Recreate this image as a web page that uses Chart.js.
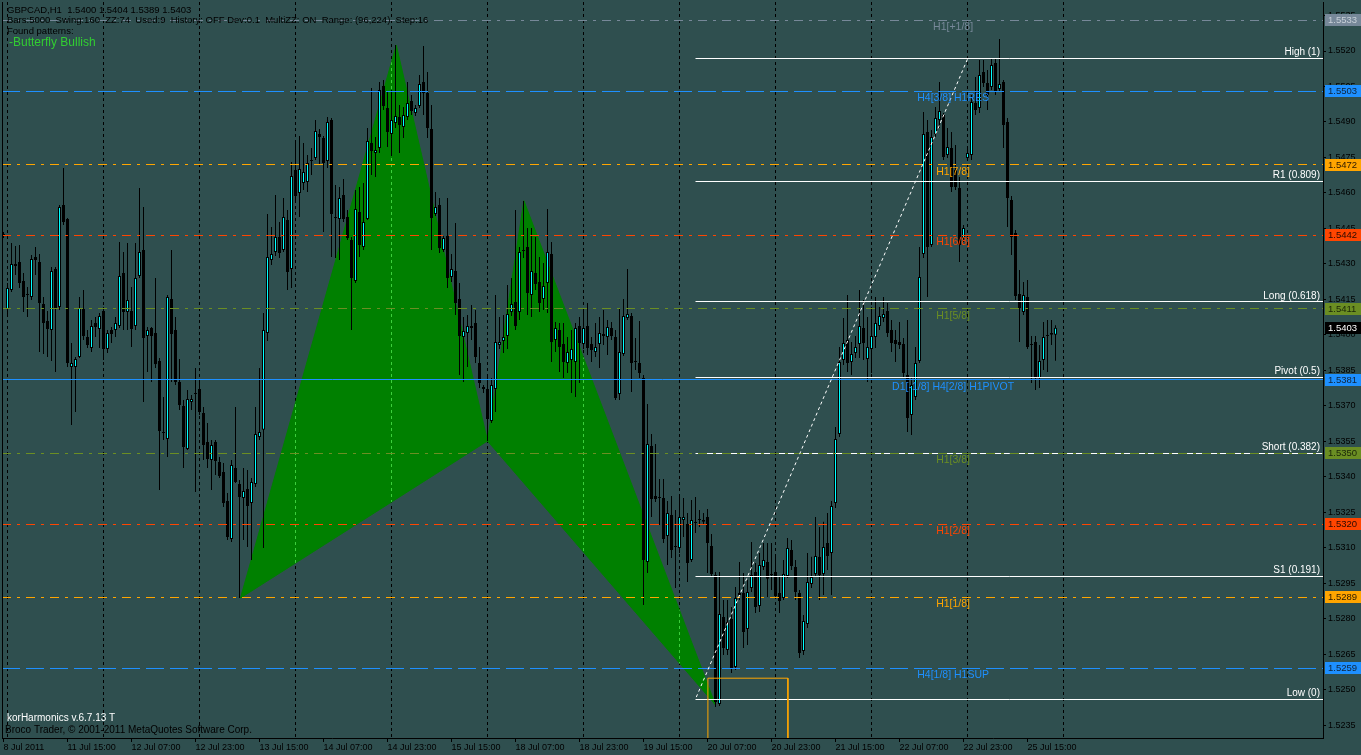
<!DOCTYPE html>
<html lang="en">
<head>
  <meta charset="UTF-8" />
  <title>GBPCAD,H1 | korHarmonics</title>
  <script src="https://cdn.jsdelivr.net/npm/chart.js"></script>
  <style>
    body {
      margin: 0;
      background: #2f4f4f;
      overflow: hidden;
    }

    .chart-box {
      position: relative;
      width: 1361px;
      height: 755px;
    }
  </style>
</head>
<body>
  <div class="chart-box">
    <canvas id="priceChart"></canvas>
  </div>

  <script>
    // GBPCAD H1 bars, 8 Jul 2011 23:00 .. 25 Jul 2011 22:00
    const opens = [
      1.54418, 1.54109, 1.54189, 1.54291, 1.54308, 1.54227, 1.54168, 1.54160, 1.54329, 1.54308,
      1.54130, 1.54058, 1.54020, 1.54278, 1.54118, 1.54549, 1.54490, 1.53864, 1.53864, 1.53906,
      1.54109, 1.53991, 1.53944, 1.54050, 1.54025, 1.54101, 1.53940, 1.54020, 1.54020, 1.54037,
      1.54261, 1.54096, 1.54101, 1.54037, 1.54249, 1.54359, 1.53995, 1.54029, 1.54008, 1.53889,
      1.53589, 1.53559, 1.54151, 1.54020, 1.53800, 1.53699, 1.53517, 1.53716, 1.53750, 1.53771,
      1.53669, 1.53547, 1.53471, 1.53547, 1.53462, 1.53420, 1.53297, 1.53137, 1.53437, 1.53369,
      1.53310, 1.53348, 1.53289, 1.53369, 1.53568, 1.53598, 1.54008, 1.54316, 1.54350, 1.54414,
      1.54359, 1.54485, 1.54278, 1.54697, 1.54600, 1.54642, 1.54646, 1.54739, 1.54748, 1.54849,
      1.54832, 1.54735, 1.54908, 1.54498, 1.54490, 1.54591, 1.54498, 1.54401, 1.54227, 1.54519,
      1.54371, 1.54490, 1.54811, 1.54769, 1.54790, 1.55052, 1.54959, 1.54849, 1.54896, 1.54921,
      1.54879, 1.54921, 1.54989, 1.54938, 1.54967, 1.55069, 1.55022, 1.54870, 1.54511, 1.54549,
      1.54359, 1.54418, 1.54244, 1.54270, 1.54151, 1.53991, 1.54008, 1.54029, 1.54050, 1.53881,
      1.53771, 1.53771, 1.53636, 1.53771, 1.53957, 1.53974, 1.53995, 1.54096, 1.54139, 1.54096,
      1.54359, 1.54371, 1.54168, 1.54261, 1.54223, 1.54151, 1.54219, 1.54342, 1.53978, 1.54020,
      1.53961, 1.53881, 1.53893, 1.53885, 1.54037, 1.53961, 1.54037, 1.53961, 1.53927, 1.53961,
      1.53995, 1.53991, 1.54029, 1.53991, 1.53750, 1.53919, 1.54071, 1.54079, 1.53889, 1.53881,
      1.53817, 1.53039, 1.53530, 1.53318, 1.53314, 1.53310, 1.53149, 1.53238, 1.53107, 1.53099,
      1.53217, 1.53200, 1.53048, 1.53209, 1.53217, 1.53209, 1.53230, 1.53107, 1.52984, 1.52439,
      1.52807, 1.52667, 1.52798, 1.52595, 1.52900, 1.52908, 1.52756, 1.52929, 1.52997, 1.52853,
      1.53018, 1.53039, 1.52989, 1.52997, 1.52908, 1.52887, 1.52980, 1.53090, 1.53018, 1.52908,
      1.52663, 1.52777, 1.52946, 1.52989, 1.53061, 1.52989, 1.53120, 1.53077, 1.53289, 1.53581,
      1.53893, 1.53978, 1.53885, 1.53923, 1.53961, 1.54029, 1.53898, 1.53940, 1.53991, 1.54037,
      1.54071, 1.54101, 1.54020, 1.53978, 1.53970, 1.53961, 1.53830, 1.53661, 1.53737, 1.53889,
      1.54342, 1.54858, 1.54380, 1.54849, 1.54908, 1.54929, 1.54760, 1.54790, 1.54697, 1.54621,
      1.54409, 1.54748, 1.54760, 1.54980, 1.54959, 1.55111, 1.55065, 1.55048, 1.55149, 1.55039,
      1.55069, 1.54900, 1.54570, 1.54430, 1.54172, 1.54096, 1.54160, 1.53961, 1.53970, 1.53817,
      1.53893, 1.53995, 1.54008, 1.54000
    ];
    const highs = [
      1.54435, 1.54219, 1.54388, 1.54375, 1.54380, 1.54261, 1.54202, 1.54337, 1.54371, 1.54342,
      1.54160, 1.54101, 1.54287, 1.54287, 1.54549, 1.54705, 1.54494, 1.53965, 1.53906, 1.54160,
      1.54189, 1.54020, 1.54063, 1.54075, 1.54092, 1.54118, 1.54020, 1.54033, 1.54075, 1.54392,
      1.54350, 1.54388, 1.54202, 1.54388, 1.54621, 1.54540, 1.54033, 1.54033, 1.54240, 1.53902,
      1.53737, 1.54168, 1.54359, 1.54075, 1.53898, 1.53724, 1.53767, 1.53745, 1.53860, 1.53796,
      1.53695, 1.53627, 1.53555, 1.53555, 1.53483, 1.53458, 1.53331, 1.53471, 1.53695, 1.53386,
      1.53437, 1.53428, 1.53395, 1.53695, 1.53860, 1.54092, 1.54511, 1.54456, 1.54591, 1.54477,
      1.54578, 1.54528, 1.54731, 1.54824, 1.54841, 1.54811, 1.54760, 1.54790, 1.54908, 1.54870,
      1.54841, 1.54921, 1.54917, 1.54633, 1.54625, 1.54659, 1.54528, 1.54414, 1.54612, 1.54625,
      1.54642, 1.54874, 1.55044, 1.54836, 1.55069, 1.55077, 1.55027, 1.55035, 1.55225, 1.54972,
      1.54963, 1.55069, 1.55014, 1.54972, 1.55099, 1.55221, 1.55111, 1.54972, 1.54604, 1.54578,
      1.54418, 1.54578, 1.54342, 1.54473, 1.54219, 1.54075, 1.54084, 1.54126, 1.54105, 1.53948,
      1.53788, 1.53822, 1.53817, 1.54168, 1.54075, 1.54084, 1.54211, 1.54240, 1.54528, 1.54371,
      1.54566, 1.54452, 1.54452, 1.54414, 1.54329, 1.54304, 1.54532, 1.54392, 1.54054, 1.54050,
      1.54050, 1.53991, 1.54020, 1.54050, 1.54075, 1.54105, 1.54134, 1.53991, 1.54050, 1.54075,
      1.54105, 1.54063, 1.54054, 1.54020, 1.54113, 1.54151, 1.54278, 1.54092, 1.53986, 1.54058,
      1.53830, 1.53707, 1.53581, 1.53538, 1.53390, 1.53390, 1.53297, 1.53318, 1.53259, 1.53327,
      1.53310, 1.53247, 1.53302, 1.53314, 1.53259, 1.53247, 1.53263, 1.53158, 1.52997, 1.52997,
      1.52879, 1.52879, 1.52849, 1.52934, 1.53039, 1.52993, 1.52963, 1.53124, 1.53035, 1.53077,
      1.53120, 1.53120, 1.53120, 1.53073, 1.52976, 1.53048, 1.53141, 1.53132, 1.53048, 1.52921,
      1.52815, 1.53077, 1.53061, 1.53230, 1.53187, 1.53209, 1.53247, 1.53297, 1.53610, 1.53948,
      1.54071, 1.54168, 1.53970, 1.53995, 1.54189, 1.54147, 1.54075, 1.54118, 1.54160, 1.54118,
      1.54160, 1.54134, 1.54063, 1.54020, 1.54054, 1.53986, 1.54063, 1.53822, 1.53948, 1.54371,
      1.54942, 1.54908, 1.54866, 1.54963, 1.55069, 1.54938, 1.54874, 1.54858, 1.54803, 1.54667,
      1.54464, 1.54790, 1.55014, 1.55090, 1.55162, 1.55162, 1.55120, 1.55170, 1.55170, 1.55251,
      1.55077, 1.54917, 1.54587, 1.54443, 1.54274, 1.54223, 1.54232, 1.53995, 1.53995, 1.53957,
      1.54054, 1.54063, 1.54063, 1.54040
    ];
    const lows = [
      1.54409, 1.54075, 1.54181, 1.54253, 1.54198, 1.54096, 1.54075, 1.54147, 1.54253, 1.53927,
      1.53919, 1.53906, 1.53889, 1.53843, 1.54105, 1.54464, 1.53864, 1.53619, 1.53674, 1.53902,
      1.53978, 1.53944, 1.53927, 1.53991, 1.53944, 1.53893, 1.53923, 1.53965, 1.53991, 1.54029,
      1.54020, 1.54020, 1.53948, 1.54020, 1.54240, 1.53716, 1.53843, 1.53800, 1.53860, 1.53344,
      1.53555, 1.53483, 1.53800, 1.53788, 1.53682, 1.53437, 1.53513, 1.53682, 1.53335, 1.53661,
      1.53471, 1.53437, 1.53344, 1.53407, 1.53395, 1.53272, 1.53132, 1.53124, 1.53373, 1.52887,
      1.53132, 1.53103, 1.53048, 1.53356, 1.53555, 1.53099, 1.53974, 1.54295, 1.54333, 1.54325,
      1.54350, 1.54189, 1.54198, 1.54570, 1.54498, 1.54612, 1.54604, 1.54676, 1.54739, 1.54718,
      1.54435, 1.54705, 1.54329, 1.54325, 1.54316, 1.54477, 1.54401, 1.54020, 1.54219, 1.54329,
      1.54359, 1.54485, 1.54676, 1.54667, 1.54769, 1.54951, 1.54794, 1.54756, 1.54874, 1.54769,
      1.54832, 1.54908, 1.54929, 1.54925, 1.54959, 1.54929, 1.54832, 1.54359, 1.54502, 1.54346,
      1.54350, 1.54198, 1.54223, 1.54084, 1.53830, 1.53800, 1.53864, 1.53978, 1.53881, 1.53775,
      1.53754, 1.53551, 1.53627, 1.53674, 1.53940, 1.53923, 1.53940, 1.54079, 1.54020, 1.54063,
      1.54325, 1.54084, 1.54075, 1.54189, 1.54096, 1.54105, 1.54092, 1.53885, 1.53927, 1.53843,
      1.53817, 1.53838, 1.53754, 1.53737, 1.53796, 1.53940, 1.53915, 1.53885, 1.53906, 1.53860,
      1.53957, 1.53915, 1.53978, 1.53724, 1.53724, 1.53910, 1.54063, 1.53758, 1.53851, 1.53817,
      1.52858, 1.52993, 1.53230, 1.53293, 1.53196, 1.53120, 1.53027, 1.53056, 1.52929, 1.53077,
      1.53145, 1.52955, 1.53039, 1.53162, 1.53187, 1.53196, 1.52993, 1.52980, 1.52426, 1.52430,
      1.52646, 1.52646, 1.52570, 1.52583, 1.52879, 1.52676, 1.52688, 1.52913, 1.52824, 1.52828,
      1.53006, 1.52891, 1.52921, 1.52887, 1.52824, 1.52879, 1.52972, 1.53006, 1.52879, 1.52633,
      1.52646, 1.52760, 1.52929, 1.52976, 1.52879, 1.52900, 1.53006, 1.52900, 1.53268, 1.53568,
      1.53872, 1.53843, 1.53830, 1.53902, 1.53902, 1.53893, 1.53800, 1.53838, 1.53944, 1.54020,
      1.54054, 1.53991, 1.53927, 1.53885, 1.53940, 1.53817, 1.53589, 1.53576, 1.53724, 1.53881,
      1.54325, 1.54160, 1.54371, 1.54836, 1.54874, 1.54739, 1.54748, 1.54604, 1.54612, 1.54308,
      1.54392, 1.54739, 1.54739, 1.54929, 1.54938, 1.55048, 1.54951, 1.55035, 1.55014, 1.55027,
      1.54790, 1.54456, 1.54337, 1.54147, 1.53970, 1.54084, 1.53940, 1.53796, 1.53767, 1.53775,
      1.53851, 1.53843, 1.53957, 1.53890
    ];
    const closes = [
      1.54426, 1.54198, 1.54299, 1.54299, 1.54219, 1.54160, 1.54172, 1.54320, 1.54316, 1.54134,
      1.54050, 1.54025, 1.54270, 1.54109, 1.54540, 1.54477, 1.53881, 1.53881, 1.53898, 1.54113,
      1.53995, 1.53957, 1.54037, 1.54033, 1.54079, 1.53940, 1.54008, 1.54003, 1.54050, 1.54249,
      1.54096, 1.54147, 1.54025, 1.54240, 1.54350, 1.53986, 1.54020, 1.53995, 1.53876, 1.53593,
      1.53585, 1.54160, 1.54003, 1.53800, 1.53703, 1.53526, 1.53729, 1.53729, 1.53754, 1.53674,
      1.53534, 1.53475, 1.53534, 1.53466, 1.53403, 1.53289, 1.53145, 1.53450, 1.53378, 1.53314,
      1.53340, 1.53276, 1.53378, 1.53581, 1.53589, 1.54020, 1.54329, 1.54342, 1.54414, 1.54346,
      1.54498, 1.54266, 1.54671, 1.54587, 1.54701, 1.54688, 1.54726, 1.54735, 1.54862, 1.54836,
      1.54726, 1.54900, 1.54511, 1.54494, 1.54578, 1.54490, 1.54409, 1.54240, 1.54532, 1.54380,
      1.54477, 1.54819, 1.54777, 1.54781, 1.55035, 1.54967, 1.54858, 1.54908, 1.54925, 1.54887,
      1.54929, 1.54980, 1.54946, 1.54959, 1.55060, 1.55022, 1.54874, 1.54494, 1.54540, 1.54367,
      1.54409, 1.54240, 1.54278, 1.54134, 1.53995, 1.54016, 1.54037, 1.54037, 1.53906, 1.53796,
      1.53779, 1.53644, 1.53788, 1.53970, 1.53970, 1.53991, 1.54088, 1.54130, 1.54037, 1.54350,
      1.54354, 1.54177, 1.54270, 1.54215, 1.54134, 1.54206, 1.54350, 1.53970, 1.54029, 1.53948,
      1.53885, 1.53927, 1.53940, 1.54029, 1.53965, 1.54029, 1.53944, 1.53936, 1.53948, 1.54008,
      1.54003, 1.54033, 1.53995, 1.53733, 1.53927, 1.54079, 1.54088, 1.53881, 1.53885, 1.53838,
      1.53048, 1.53538, 1.53306, 1.53306, 1.53310, 1.53137, 1.53247, 1.53090, 1.53103, 1.53230,
      1.53230, 1.53035, 1.53217, 1.53204, 1.53221, 1.53217, 1.53120, 1.52989, 1.52447, 1.52819,
      1.52676, 1.52786, 1.52591, 1.52887, 1.52908, 1.52743, 1.52913, 1.52984, 1.52849, 1.53027,
      1.53048, 1.52968, 1.52984, 1.52896, 1.52874, 1.52989, 1.53099, 1.53022, 1.52913, 1.52655,
      1.52790, 1.52955, 1.52976, 1.53065, 1.52984, 1.53103, 1.53065, 1.53276, 1.53559, 1.53885,
      1.53965, 1.53881, 1.53919, 1.53948, 1.54037, 1.53965, 1.53948, 1.53995, 1.54050, 1.54079,
      1.54088, 1.54008, 1.53965, 1.53961, 1.53957, 1.53838, 1.53648, 1.53788, 1.53881, 1.54244,
      1.54849, 1.54371, 1.54836, 1.54917, 1.54946, 1.54752, 1.54794, 1.54625, 1.54625, 1.54380,
      1.54452, 1.54769, 1.54984, 1.54951, 1.55099, 1.55065, 1.55014, 1.55141, 1.55031, 1.55060,
      1.54887, 1.54578, 1.54414, 1.54164, 1.54113, 1.54168, 1.53948, 1.53957, 1.53817, 1.53889,
      1.53991, 1.53999, 1.54000, 1.54030
    ];

    // axis labels (bar index -> time label)
    const xTickBars = [0, 16, 32, 48, 64, 80, 96, 112, 128, 144, 160, 176, 192, 208, 224, 240, 256];
    const xTickLabels = [
      '8 Jul 2011', '11 Jul 15:00', '12 Jul 07:00', '12 Jul 23:00', '13 Jul 15:00', '14 Jul 07:00',
      '14 Jul 23:00', '15 Jul 15:00', '18 Jul 07:00', '18 Jul 23:00', '19 Jul 15:00', '20 Jul 07:00',
      '20 Jul 23:00', '21 Jul 15:00', '22 Jul 07:00', '22 Jul 23:00', '25 Jul 15:00'
    ];
    const dayStartBars = [1, 25, 49, 73, 97, 121, 145, 169, 193, 217, 241, 265];
    const yTicks = [
      1.5235, 1.5250, 1.5265, 1.5280, 1.5295, 1.5310, 1.5325, 1.5340, 1.5355, 1.5370, 1.5385,
      1.5400, 1.5415, 1.5430, 1.5445, 1.5460, 1.5475, 1.5490, 1.5505, 1.5520, 1.5535
    ];

    // murrey math levels
    const levelPrices = [1.5533, 1.5503, 1.5472, 1.5442, 1.5411, 1.5381, 1.5350, 1.5320, 1.5289, 1.5259];
    const levelNames = [
      'H1[+1/8]', 'H4[3/8] H1RES', 'H1[7/8]', 'H1[6/8]', 'H1[5/8]',
      'D1[-1/8] H4[2/8] H1PIVOT', 'H1[3/8]', 'H1[2/8]', 'H1[1/8]', 'H4[1/8] H1SUP'
    ];

    // fibo pivot lines
    const fiboPrices = [1.5517, 1.5465, 1.5414, 1.5382, 1.5350, 1.5298, 1.5246];
    const fiboNames = ['High (1)', 'R1 (0.809)', 'Long (0.618)', 'Pivot (0.5)', 'Short (0.382)', 'S1 (0.191)', 'Low (0)'];
    const fiboStartBar = 173;

    // butterfly X A B C D
    const patternBars = [59.25, 98.2, 121, 130.1, 178];
    const patternPrices = [1.52887, 1.55225, 1.53551, 1.54567, 1.52435];

    // projection leg and target box
    const legBars = [173.2, 241];
    const legPrices = [1.52468, 1.55166];
    const boxBars = [176.1, 196.1];
    const boxPrices = [1.5200, 1.52548];

    // styles
    const BG = '#2f4f4f';
    const BULL = '#00ffff';
    const FONT = '"Liberation Sans", Arial, sans-serif';
    const levelColors = ['#778899', '#1e90ff', '#ffa500', '#ff4500', '#6b8e23', '#1e90ff', '#6b8e23', '#ff4500', '#ffa500', '#1e90ff'];
    const levelTextColors = ['#c8d0d8', '#10243a', '#2a1a00', '#2a0a00', '#1a2608', '#10243a', '#1a2608', '#2a0a00', '#2a1a00', '#10243a'];
    const DASHDOT = [9, 6, 3, 6];
    const DASH = [18, 6];
    const levelDash = [DASHDOT, DASH, DASHDOT, DASHDOT, DASHDOT, [], DASHDOT, DASHDOT, DASHDOT, DASH];
    const LABEL_BAR = 237.4;

    const X_MIN = -0.375, X_MAX = 329.875;
    const Y_MIN = 1.5229514, Y_MAX = 1.5540719;

    const bars = opens.map((_, i) => i);
    const last = bars.length - 1;

    const hline = (p, from) => [{ x: from, y: p }, { x: X_MAX, y: p }];
    const tri = (a, b, c) => [a, b, c, a].map(k => ({ x: patternBars[k], y: patternPrices[k] }));

    const datasets = [
      {
        type: 'line', data: tri(0, 1, 2), fill: 'shape', backgroundColor: '#008000',
        borderColor: '#008000', borderWidth: 1, pointRadius: 0, order: 30, pattern: true
      },
      {
        type: 'line', data: tri(2, 3, 4), fill: 'shape', backgroundColor: '#008000',
        borderColor: '#008000', borderWidth: 1, pointRadius: 0, order: 30, pattern: true
      },
      {
        type: 'bar', data: bars.map(i => ({ x: i, y: [lows[i], highs[i]] })),
        backgroundColor: '#000', borderWidth: 0, barThickness: 1, grouped: false,
        inflateAmount: 0, order: 3
      },
      {
        type: 'bar', data: bars.map(i => ({ x: i, y: [opens[i], closes[i]] })),
        backgroundColor: bars.map(i => closes[i] >= opens[i] ? BULL : '#000'),
        borderColor: '#000', borderWidth: 1, borderSkipped: false, barThickness: 3,
        minBarLength: 1, grouped: false, inflateAmount: 0, order: 2
      }
    ];

    levelPrices.forEach((p, k) => datasets.push({
      type: 'line', data: hline(p, X_MIN), borderColor: levelColors[k], borderWidth: 1,
      borderDash: levelDash[k], pointRadius: 0, fill: false, order: 1, crisp: true
    }));

    fiboPrices.forEach(p => datasets.push({
      type: 'line', data: hline(p, fiboStartBar), borderColor: '#ffffff', borderWidth: 1,
      pointRadius: 0, fill: false, order: 1, crisp: true
    }));

    datasets.push({
      type: 'line', data: legBars.map((b, k) => ({ x: b, y: legPrices[k] })),
      borderColor: '#ffffff', borderWidth: 1, borderDash: [3, 3], pointRadius: 0, fill: false, order: 0
    });
    datasets.push({
      type: 'line',
      data: [
        { x: boxBars[0], y: boxPrices[0] }, { x: boxBars[0], y: boxPrices[1] },
        { x: boxBars[1], y: boxPrices[1] }, { x: boxBars[1], y: boxPrices[0] }
      ],
      borderColor: '#ffa500', borderWidth: 1, pointRadius: 0, fill: false, order: 0
    });

    // background, labels and price tags like the terminal draws them
    const decor = {
      id: 'decor',
      beforeDraw(chart) {
        const c = chart.ctx;
        c.save();
        c.fillStyle = BG;
        c.fillRect(0, 0, chart.width, chart.height);
        c.restore();
      },
      // snap horizontal level lines onto the pixel grid so they stay sharp
      beforeDatasetDraw(chart, args) {
        const ds = chart.data.datasets[args.index];
        if (!ds.crisp) return;
        const py = chart.scales.y.getPixelForValue(ds.data[0].y);
        chart.ctx.save();
        chart.ctx.translate(0, Math.floor(py) + 0.5 - py);
      },
      afterDatasetDraw(chart, args) {
        const ds = chart.data.datasets[args.index];
        if (ds.crisp) chart.ctx.restore();
        if (!ds.pattern) return;
        // day separators show through the pattern fill in light green
        const c = chart.ctx;
        const a = chart.chartArea;
        const pts = args.meta.data;
        c.save();
        c.beginPath();
        pts.forEach((pt, k) => k ? c.lineTo(pt.x, pt.y) : c.moveTo(pt.x, pt.y));
        c.closePath();
        c.clip();
        c.strokeStyle = '#3ccf3c';
        c.lineWidth = 1;
        c.setLineDash([3, 3]);
        chart.scales.days.ticks.forEach(t => {
          const px = Math.round(chart.scales.days.getPixelForValue(t.value) - 0.5) + 0.5;
          c.beginPath();
          c.moveTo(px, a.top);
          c.lineTo(px, a.bottom);
          c.stroke();
        });
        c.restore();
      },
      afterDraw(chart) {
        const c = chart.ctx;
        const a = chart.chartArea;
        const x = chart.scales.x;
        const y = chart.scales.y;
        c.save();

        c.fillStyle = '#000';
        c.fillRect(a.left, a.top, 1, a.bottom - a.top);

        c.font = '10.5px ' + FONT;
        c.textAlign = 'center';
        c.textBaseline = 'middle';
        levelPrices.forEach((p, k) => {
          c.fillStyle = levelColors[k];
          c.fillText(levelNames[k], x.getPixelForValue(LABEL_BAR), Math.round(y.getPixelForValue(p)) + 7);
        });

        c.font = '10px ' + FONT;
        c.textAlign = 'right';
        c.textBaseline = 'bottom';
        c.fillStyle = '#ffffff';
        fiboPrices.forEach((p, k) => {
          c.fillText(fiboNames[k], a.right - 3, Math.round(y.getPixelForValue(p)) - 1);
        });

        c.font = '9.5px ' + FONT;
        c.textAlign = 'left';
        c.textBaseline = 'middle';
        const tag = (p, bg, fg) => {
          const py = Math.round(y.getPixelForValue(p));
          c.fillStyle = bg;
          c.fillRect(a.right + 2, py - 6, chart.width - a.right - 2, 12);
          c.fillStyle = fg;
          c.fillText(p.toFixed(4), a.right + 5, py + 0.5);
        };
        levelPrices.forEach((p, k) => tag(p, levelColors[k], levelTextColors[k]));
        tag(closes[last], '#000', '#ffffff');

        c.fillStyle = '#000';
        c.font = '9.5px ' + FONT;
        c.fillText('GBPCAD,H1  ' + [opens[last], highs[last], lows[last], closes[last]].map(v => v.toFixed(4)).join(' '), 7, 10);
        c.fillText('Bars:5000  Swing:160  ZZ:74  Used:9  History: OFF Dev:0.1  MultiZZ: ON  Range: (96,224)  Step:16', 7, 20);
        c.fillText('Found patterns:', 7, 31);
        c.font = '12px ' + FONT;
        c.fillStyle = '#32cd32';
        c.fillText('-Butterfly Bullish', 9, 43);

        c.font = '10px ' + FONT;
        c.fillStyle = '#ffffff';
        c.fillText('korHarmonics v.6.7.13 T', 7, 718);
        c.fillStyle = '#000';
        c.fillText('Broco Trader, \u00a9 2001-2011 MetaQuotes Software Corp.', 5, 730);
        c.restore();
      }
    };

    new Chart(document.getElementById('priceChart'), {
      type: 'bar',
      data: { datasets },
      plugins: [decor],
      options: {
        responsive: true,
        maintainAspectRatio: false,
        devicePixelRatio: 1,
        animation: false,
        events: [],
        layout: { padding: { top: 2, left: 2, right: 0, bottom: 0 } },
        plugins: { legend: { display: false }, tooltip: { enabled: false } },
        scales: {
          x: {
            type: 'linear', position: 'bottom', min: X_MIN, max: X_MAX, offset: false,
            grid: { offset: false, drawOnChartArea: false, drawTicks: true, tickLength: 4, color: '#000' },
            border: { display: true, color: '#000' },
            ticks: {
              align: 'start', autoSkip: false, maxRotation: 0, padding: 0, color: '#000',
              font: { family: FONT, size: 9 },
              callback: (v, i) => xTickLabels[i]
            },
            afterBuildTicks: s => { s.ticks = xTickBars.map(v => ({ value: v })); },
            afterFit: s => { s.height = 17; s.paddingLeft = 0; s.paddingRight = 0; }
          },
          days: {
            type: 'linear', position: 'bottom', min: X_MIN, max: X_MAX, offset: false,
            grid: { offset: false, drawOnChartArea: true, drawTicks: false, color: '#000' },
            border: { display: false, dash: [3, 3] },
            ticks: { display: false, autoSkip: false },
            afterBuildTicks: s => { s.ticks = dayStartBars.map(v => ({ value: v })); },
            afterFit: s => { s.height = 0; s.paddingLeft = 0; s.paddingRight = 0; }
          },
          y: {
            type: 'linear', position: 'right', min: Y_MIN, max: Y_MAX,
            grid: { drawOnChartArea: false, drawTicks: true, tickLength: 3, color: '#000' },
            border: { display: true, color: '#000' },
            ticks: {
              autoSkip: false, padding: 2, color: '#000',
              font: { family: FONT, size: 9 },
              callback: v => v.toFixed(4)
            },
            afterBuildTicks: s => { s.ticks = yTicks.map(v => ({ value: v })); },
            afterFit: s => { s.width = 38; s.paddingTop = 0; s.paddingBottom = 0; }
          }
        }
      }
    });
  </script>
</body>
</html>
